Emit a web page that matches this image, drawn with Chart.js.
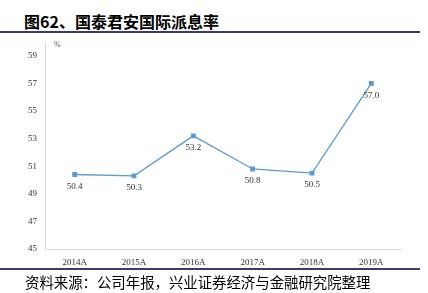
<!DOCTYPE html>
<html>
<head>
<meta charset="utf-8">
<script src="https://cdn.jsdelivr.net/npm/chart.js@4"></script>
<style>
  body { margin: 0; width: 428px; height: 293px; background: #fff; position: relative; overflow: hidden; }
  #title { position: absolute; left: 24px; top: 9px; font: bold 16px "Noto Sans CJK SC"; color: #000; white-space: nowrap; }
  .rule { position: absolute; left: 0; width: 420px; height: 2px; background: #3b3b6d; }
  #source { position: absolute; left: 25px; top: 271px; font: 14.4px "Noto Sans CJK SC"; color: #000; white-space: nowrap; }
  #unit { position: absolute; left: 54px; top: 40px; font: 8px "Liberation Serif"; color: #555; }
  #wrap { position: absolute; left: 0; top: 0; width: 428px; height: 293px; }
</style>
</head>
<body>
<div id="title">图62、国泰君安国际派息率</div>
<div class="rule" style="top:31px"></div>
<div id="wrap"><canvas id="c"></canvas></div>
<div id="unit">%</div>
<div class="rule" style="top:268px"></div>
<div id="source">资料来源：公司年报，兴业证券经济与金融研究院整理</div>
<script>
// dividend payout ratio, %
const years = ["2014A", "2015A", "2016A", "2017A", "2018A", "2019A"];
const payout = [50.4, 50.3, 53.2, 50.8, 50.5, 57.0];
const yTicks = [45, 47, 49, 51, 53, 55, 57, 59];

// value labels under each point
const valueLabels = {
  id: "valueLabels",
  afterDatasetsDraw(chart) {
    const ctx = chart.ctx;
    const meta = chart.getDatasetMeta(0);
    ctx.save();
    ctx.font = "9px 'Liberation Serif'";
    ctx.fillStyle = "#333";
    ctx.textAlign = "center";
    ctx.textBaseline = "middle";
    meta.data.forEach((pt, i) => {
      ctx.fillText(payout[i].toFixed(1), pt.x, pt.y + 12);
    });
    ctx.restore();
  },
};

new Chart(document.getElementById("c"), {
  type: "line",
  data: {
    labels: years,
    datasets: [
      {
        data: payout,
        borderColor: "#5b9bd5",
        backgroundColor: "#5b9bd5",
        borderWidth: 1.3,
        pointStyle: "rect",
        pointRadius: 2.5,
        pointHoverRadius: 2.5,
        tension: 0,
      },
    ],
  },
  options: {
    responsive: true,
    maintainAspectRatio: false,
    animation: false,
    layout: { padding: { top: 42, right: 27, bottom: 0, left: 0 } },
    plugins: { legend: { display: false }, tooltip: { enabled: false } },
    scales: {
      x: {
        offset: true,
        grid: { display: false, drawTicks: false },
        border: { color: "#d9d9d9" },
        ticks: { color: "#333", font: { family: "Liberation Serif", size: 9 }, padding: 8, maxRotation: 0 },
        afterFit: (s) => { s.height = 44; },
      },
      y: {
        min: 45,
        max: 60,
        grid: { display: false, drawTicks: false },
        border: { color: "#d9d9d9" },
        afterBuildTicks: (s) => { s.ticks = yTicks.map((v) => ({ value: v })); },
        ticks: { color: "#333", font: { family: "Liberation Serif", size: 9 }, padding: 8 },
        afterFit: (s) => { s.width = 45; },
      },
    },
  },
  plugins: [valueLabels],
});
</script>
</body>
</html>
